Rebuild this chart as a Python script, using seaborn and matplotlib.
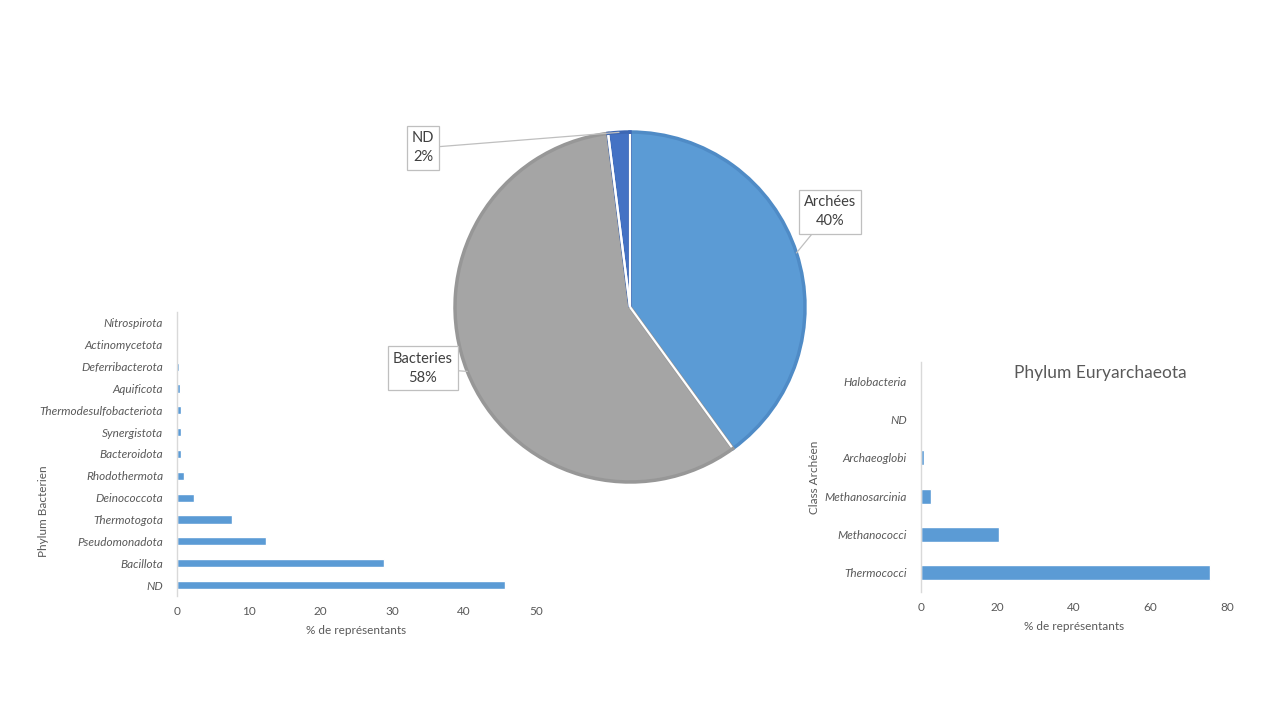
import numpy as np
import pandas as pd
import matplotlib
matplotlib.use("Agg")
import matplotlib.pyplot as plt
import seaborn as sns

# ---------------- data ----------------
pie_labels = ["Archées", "Bacteries", "ND"]
pie_values = [40, 58, 2]

bact_phyla = ["Nitrospirota", "Actinomycetota", "Deferribacterota", "Aquificota",
              "Thermodesulfobacteriota", "Synergistota", "Bacteroidota", "Rhodothermota",
              "Deinococcota", "Thermotogota", "Pseudomonadota", "Bacillota", "ND"]
bact_values = [0.0, 0.0, 0.25, 0.4, 0.5, 0.5, 0.5, 0.95, 2.35, 7.65, 12.4, 28.8, 45.7]
bact_ticks = [0, 10, 20, 30, 40, 50]

arch_classes = ["Halobacteria", "ND", "Archaeoglobi", "Methanosarcinia",
                "Methanococci", "Thermococci"]
arch_values = [0.0, 0.0, 0.7, 2.7, 20.4, 75.5]
arch_ticks = [0, 20, 40, 60, 80]

# ---------------- style ----------------
sns.set_theme(style="white")
plt.rcParams["font.family"] = ["Lato", "DejaVu Sans"]

BLUE = "#5B9BD5"
GRAY_TXT = "#595959"
SPINE = "#D9D9D9"

W, H = 1280, 720
fig = plt.figure(figsize=(12.8, 7.2), dpi=100)
fig.patch.set_facecolor("white")


def px_axes(left, top, right, bottom):
    return fig.add_axes([left / W, 1 - bottom / H, (right - left) / W, (bottom - top) / H])


# ---------------- pie ----------------
cx, cy, r = 630, 307, 175
lim = 1.25
ax_pie = px_axes(cx - r * lim, cy - r * lim, cx + r * lim, cy + r * lim)
pie_colors = ["#5B9BD5", "#A5A5A5", "#4472C4"]
pie_edges = ["#4F8BC6", "#979797", "#3D67B4"]
wedges, _ = ax_pie.pie(pie_values, colors=pie_colors, startangle=90, counterclock=False,
                       radius=1.0, wedgeprops=dict(linewidth=0))
for w, ec in zip(wedges, pie_edges):
    w.set_edgecolor(ec)
    w.set_linewidth(2.5)
    w.set_joinstyle("miter")
# white separators between Archées/Bacteries and Bacteries/ND
for w in wedges[1:]:
    for ang in (w.theta1, w.theta2):
        a = np.deg2rad(ang)
        ax_pie.plot([0, 0.99 * np.cos(a)], [0, 0.99 * np.sin(a)], color="white", lw=1.6,
                    solid_capstyle="butt", zorder=5)
ax_pie.set_xlim(-lim, lim)
ax_pie.set_ylim(-lim, lim)
ax_pie.set_aspect("equal")
ax_pie.axis("off")

label_pos = {"Archées": (1.143, 0.543), "Bacteries": (-1.183, -0.349), "ND": (-1.183, 0.909)}
total = sum(pie_values)
for w, lab, val in zip(wedges, pie_labels, pie_values):
    mid = np.deg2rad((w.theta1 + w.theta2) / 2)
    xy = (np.cos(mid), np.sin(mid))
    ax_pie.annotate(f"{lab}\n{round(100 * val / total)}%", xy=xy, xytext=label_pos[lab],
                    ha="center", va="center", fontsize=10.5, color="#404040",
                    linespacing=1.45, annotation_clip=False,
                    bbox=dict(boxstyle="square,pad=0.35", fc="white", ec="#BFBFBF", lw=0.9),
                    arrowprops=dict(arrowstyle="-", color="#BFBFBF", lw=0.9,
                                    shrinkA=0, shrinkB=0))


# ---------------- bar charts ----------------
def style_bar_axes(ax, ticks, xlabel, ylabel, ylab_coords, boundary_ticks):
    ax.set_xlim(ticks[0], ticks[-1])
    ax.set_xticks(ticks)
    ax.set_xticklabels([str(t) for t in ticks])
    ax.set_xlabel(xlabel, fontsize=8.5, color=GRAY_TXT)
    ax.xaxis.set_label_coords(0.5, -29 / (ax.bbox.height))
    ax.set_ylabel(ylabel, fontsize=8.5, color=GRAY_TXT)
    ax.yaxis.set_label_coords(*ylab_coords)
    for s in ["top", "right", "bottom"]:
        ax.spines[s].set_visible(False)
    ax.spines["left"].set_color(SPINE)
    ax.spines["left"].set_linewidth(1.0)
    ax.tick_params(axis="x", length=0, pad=7, labelsize=8.5, colors=GRAY_TXT)
    ax.tick_params(axis="y", length=0, pad=10, labelsize=8.5, colors=GRAY_TXT)
    for t in ax.get_yticklabels():
        t.set_style("italic")
    n = len(ax.get_yticks())
    if boundary_ticks:
        ax.set_yticks(np.arange(-0.5, n, 1.0), minor=True)
        ax.tick_params(axis="y", which="minor", length=4, width=1, color=SPINE, direction="out")
    ax.grid(False)
    ax.set_facecolor("none")


# bacteria
ax_b = px_axes(177, 312, 536, 596)
df_b = pd.DataFrame({"phylum": bact_phyla, "val": bact_values})
sns.barplot(data=df_b, x="val", y="phylum", order=bact_phyla, color=BLUE, saturation=1,
            width=0.37, ax=ax_b)
style_bar_axes(ax_b, bact_ticks, "% de représentants", "Phylum Bacterien",
               (-0.357, 0.30), boundary_ticks=False)

# archaea
ax_a = px_axes(921, 362, 1227, 592)
df_a = pd.DataFrame({"cls": arch_classes, "val": arch_values})
sns.barplot(data=df_a, x="val", y="cls", order=arch_classes, color=BLUE, saturation=1,
            width=0.39, ax=ax_a)
style_bar_axes(ax_a, arch_ticks, "% de représentants", "Class Archéen",
               (-0.33, 0.50), boundary_ticks=True)
ax_a.text(0.585, 0.952, "Phylum Euryarchaeota", transform=ax_a.transAxes, ha="center",
          va="center", fontsize=12.5, color=GRAY_TXT)

fig.savefig("out.png", dpi=100, facecolor="white")
